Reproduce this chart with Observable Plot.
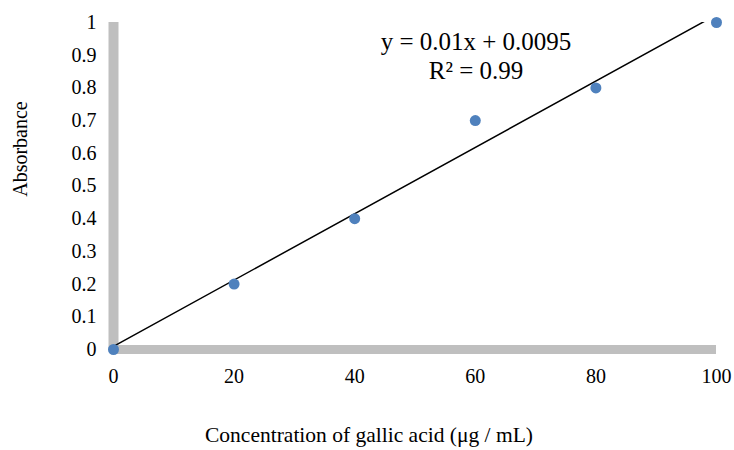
<!DOCTYPE html>
<html>
<head>
<meta charset="utf-8">
<script src="https://cdn.jsdelivr.net/npm/d3@7"></script>
<script src="https://cdn.jsdelivr.net/npm/@observablehq/plot@0.6"></script>
<style>
  html, body { margin: 0; padding: 0; background: #fff; }
</style>
</head>
<body>
<div id="chart"></div>
<script>
const concentration = [0, 20, 40, 60, 80, 100];
const absorbance = [0, 0.2, 0.4, 0.7, 0.8, 1.0];
const xTicks = [0, 20, 40, 60, 80, 100];
const yTicks = [0, 0.1, 0.2, 0.3, 0.4, 0.5, 0.6, 0.7, 0.8, 0.9, 1];
const xLabel = "Concentration of gallic acid (μg / mL)";
const yLabel = "Absorbance";
const equationText = "y = 0.01x + 0.0095\nR² = 0.99";

const data = concentration.map((c, i) => ({x: c, y: absorbance[i]}));

const font = "'Liberation Serif', 'Times New Roman', 'DejaVu Serif', serif";

const chart = Plot.plot({
  width: 734,
  height: 450,
  marginLeft: 113,
  marginRight: 18,
  marginTop: 22,
  marginBottom: 101,
  style: {fontFamily: font, fontSize: "20px", color: "#000", background: "#fff"},
  x: {domain: [0, 100]},
  y: {domain: [0, 1]},
  marks: [
    Plot.ruleX([0], {y1: 0, y2: 1, stroke: "#bfbfbf", strokeWidth: 10}),
    Plot.ruleY([0], {x1: 0, x2: 100, stroke: "#bfbfbf", strokeWidth: 9}),
    Plot.axisY({ticks: yTicks, tickSize: 0, tickPadding: 17, tickFormat: d => String(d), fontSize: 20, label: null}),
    Plot.axisX({ticks: xTicks, tickSize: 0, tickPadding: 19, tickFormat: d => String(d), fontSize: 20, label: null}),
    Plot.linearRegressionY(data, {x: "x", y: "y", ci: 0, stroke: "#000", strokeWidth: 1.5, clip: true}),
    Plot.dot(data, {x: "x", y: "y", r: 5.5, fill: "#4f81bd", stroke: "none"}),
    Plot.text([yLabel], {text: d => d, frameAnchor: "left", textAnchor: "middle", lineAnchor: "middle", dx: -93, dy: -37, rotate: -90, fontSize: 20, fill: "#000"}),
    Plot.text([xLabel], {text: d => d, frameAnchor: "bottom", textAnchor: "middle", lineAnchor: "middle", dx: -46, dy: 86, fontSize: 21.5, fill: "#000"}),
    Plot.text([equationText], {text: d => d, frameAnchor: "top", textAnchor: "middle", lineAnchor: "middle", dx: 61, dy: 33, fontSize: 25, lineHeight: 1.16, fill: "#000"})
  ]
});
document.getElementById("chart").appendChild(chart);
</script>
</body>
</html>
